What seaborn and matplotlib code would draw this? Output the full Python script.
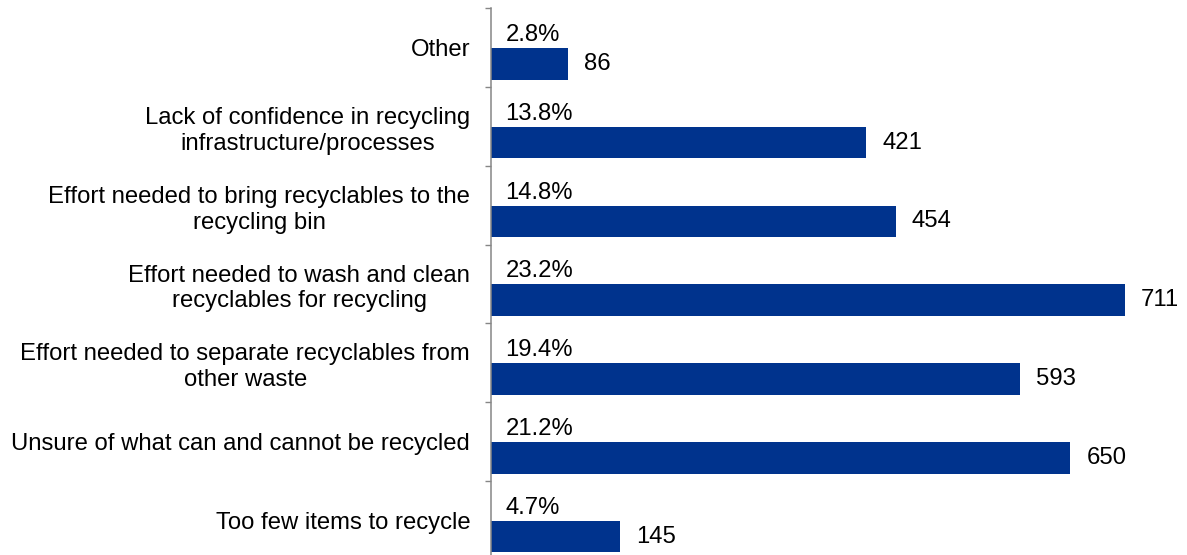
import matplotlib
matplotlib.use("Agg")
import matplotlib.pyplot as plt
import numpy as np
import pandas as pd
import seaborn as sns
from matplotlib.ticker import FixedLocator

categories = [
    "Other",
    "Lack of confidence in recycling\ninfrastructure/processes",
    "Effort needed to bring recyclables to the\nrecycling bin",
    "Effort needed to wash and clean\nrecyclables for recycling",
    "Effort needed to separate recyclables from\nother waste",
    "Unsure of what can and cannot be recycled",
    "Too few items to recycle",
]
counts = [86, 421, 454, 711, 593, 650, 145]
shares = ["2.8%", "13.8%", "14.8%", "23.2%", "19.4%", "21.2%", "4.7%"]

BAR_COLOR = "#00338D"
AXIS_COLOR = "#868686"
FONT_SIZE = 17.2

sns.set_theme(style="white")
plt.rcParams["font.family"] = ["Liberation Sans", "DejaVu Sans"]

n = len(categories)
slots = np.arange(n)
# each bar sits in the lower half of its category slot
bar_offset = 0.205
df = pd.DataFrame({"count": counts, "pos": slots + bar_offset})

fig = plt.figure(figsize=(11.87, 5.55), dpi=100)
ax = fig.add_axes([491 / 1187, 0.0, 1 - 491 / 1187, 1 - 8.3 / 555])

sns.barplot(data=df, x="count", y="pos", orient="h", native_scale=True,
            width=0.4, color=BAR_COLOR, saturation=1, ax=ax, linewidth=0)

ax.set_xlim(0, 780.7)
ax.set_ylim(6.438, -0.5)

ax.set_yticks(slots)
ax.set_yticklabels(categories, fontsize=FONT_SIZE, color="black",
                   multialignment="center", linespacing=1.22)
ax.yaxis.set_minor_locator(FixedLocator(np.arange(-0.5, n, 1.0)))
ax.tick_params(axis="y", which="major", length=0, pad=15)
ax.tick_params(axis="y", which="minor", left=True, length=4.5, width=1.0,
               color=AXIS_COLOR)
ax.set_xticks([])
ax.set_xlabel("")
ax.set_ylabel("")

for side in ["top", "right", "bottom"]:
    ax.spines[side].set_visible(False)
ax.spines["left"].set_color(AXIS_COLOR)
ax.spines["left"].set_linewidth(1.1)

for i, (c, s) in enumerate(zip(counts, shares)):
    ax.annotate(s, xy=(0, i - 0.16), xytext=(10.5, 0), textcoords="offset points",
                ha="left", va="center", fontsize=FONT_SIZE, color="black")
    ax.annotate(str(c), xy=(c, i + bar_offset), xytext=(11.5, 0),
                textcoords="offset points", ha="left", va="center",
                fontsize=FONT_SIZE, color="black")

fig.savefig("out.png", dpi=100)
